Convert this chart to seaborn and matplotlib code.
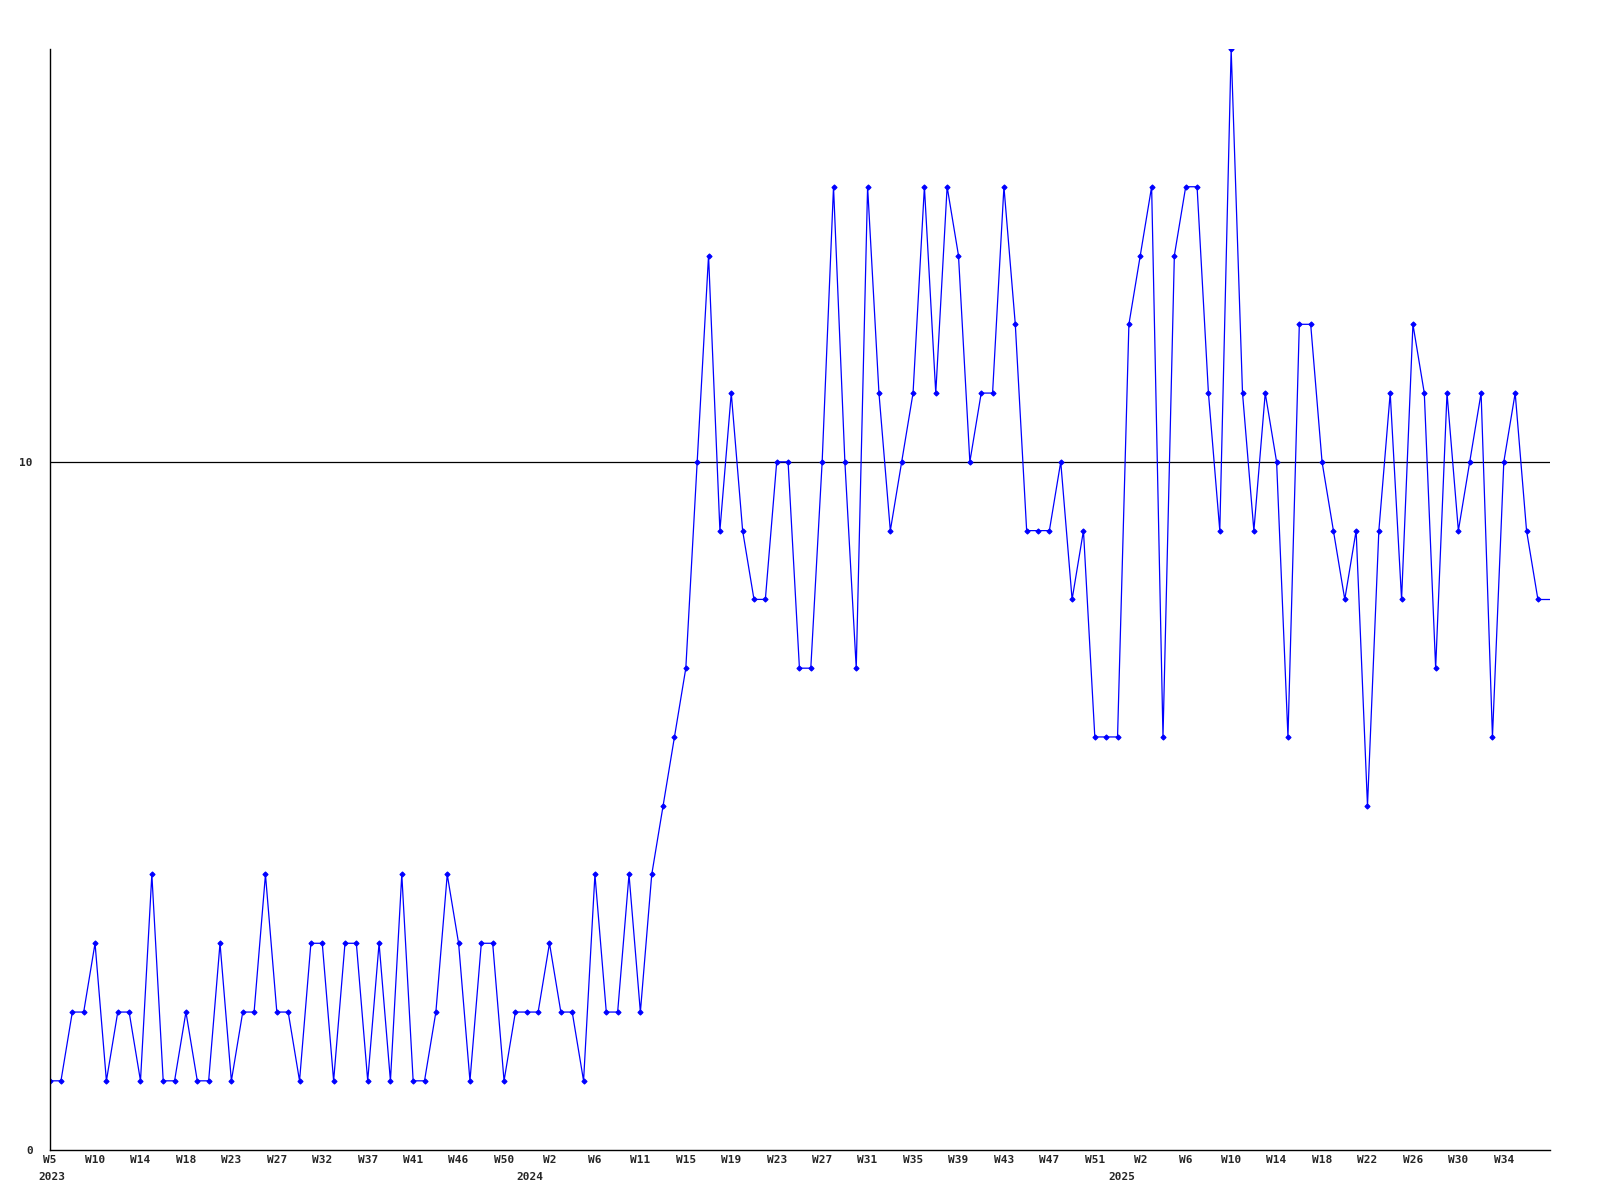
import numpy as np
import matplotlib
matplotlib.use("Agg")
import matplotlib.pyplot as plt
import matplotlib.transforms as mtransforms
import seaborn as sns

# weekly counts
values = [1, 1, 2, 2, 3, 1, 2, 2, 1, 4,
          1, 1, 2, 1, 1, 3, 1, 2, 2, 4,
          2, 2, 1, 3, 3, 1, 3, 3, 1, 3,
          1, 4, 1, 1, 2, 4, 3, 1, 3, 3,
          1, 2, 2, 2, 3, 2, 2, 1, 4, 2,
          2, 4, 2, 4, 5, 6, 7, 10, 13, 9,
          11, 9, 8, 8, 10, 10, 7, 7, 10, 14,
          10, 7, 14, 11, 9, 10, 11, 14, 11, 14,
          13, 10, 11, 11, 14, 12, 9, 9, 9, 10,
          8, 9, 6, 6, 6, 12, 13, 14, 6, 13,
          14, 14, 11, 9, 16, 11, 9, 11, 10, 6,
          12, 12, 10, 9, 8, 9, 5, 9, 11, 8,
          12, 11, 7, 11, 9, 10, 11, 6, 10, 11,
          9, 8]

week_labels = ["W5", "W10", "W14", "W18", "W23", "W27", "W32", "W37", "W41",
               "W46", "W50", "W2", "W6", "W11", "W15", "W19", "W23", "W27",
               "W31", "W35", "W39", "W43", "W47", "W51", "W2", "W6", "W10",
               "W14", "W18", "W22", "W26", "W30", "W34"]
label_step = 4

years = ["2023", "2024", "2025"]
year_pos = [0.2, 42.3, 94.4]

threshold = 10

sns.set_style("white")
plt.rcParams["font.family"] = ["DejaVu Sans Mono"]
plt.rcParams["font.weight"] = "bold"

fig = plt.figure(figsize=(16, 12), dpi=100)
ax = fig.add_axes([0.031, 0.042, 0.938, 0.917])

n = len(values)
x_end = n + 0.1
idx = np.arange(n)
sns.lineplot(x=idx, y=values, ax=ax, color="#0000ff", linewidth=0.9,
             marker="D", markersize=2.6, markeredgewidth=0.8,
             markeredgecolor="#0000ff", markerfacecolor="#0000ff")
# last value carried on to the right edge
ax.plot([n - 1, x_end], [values[-1], values[-1]], color="#0000ff", lw=0.9)

ax.axhline(threshold, color="black", lw=0.9, zorder=1)

ax.set_xlim(0, x_end)
ax.set_ylim(0, 16)
ax.set_yticks([0, 10])
ax.set_yticklabels(["0", "10"])
ax.set_xticks(np.arange(len(week_labels)) * label_step)
ax.set_xticklabels(week_labels)
ax.tick_params(axis="both", length=0, labelsize=8)
ax.tick_params(axis="y", pad=12)
ax.tick_params(axis="x", pad=4)

trans = mtransforms.blended_transform_factory(ax.transData, ax.transAxes)
for yr, xp in zip(years, year_pos):
    ax.text(xp, -0.0245, yr, transform=trans, ha="center", va="center",
            fontsize=8, fontweight="bold")

for side in ["top", "right"]:
    ax.spines[side].set_visible(False)
for side in ["left", "bottom"]:
    ax.spines[side].set_color("black")
    ax.spines[side].set_linewidth(1)

fig.savefig("out.png", dpi=100, facecolor="white")
